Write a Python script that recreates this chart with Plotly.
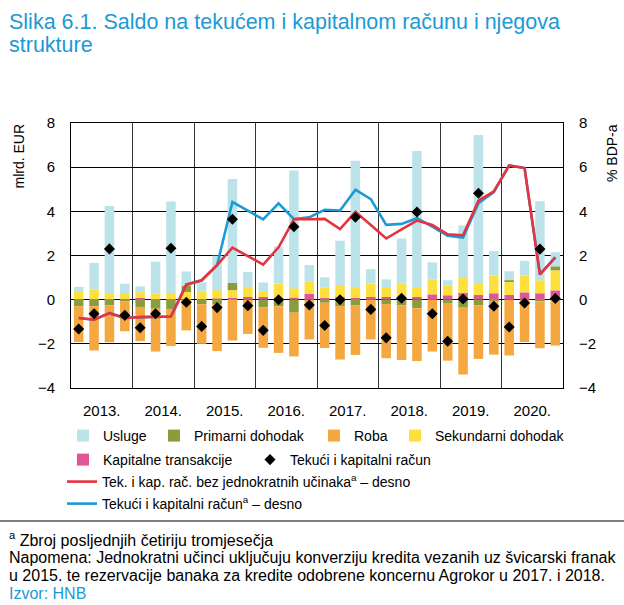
import plotly.graph_objects as go

years = ["2013.", "2014.", "2015.", "2016.", "2017.", "2018.", "2019.", "2020."]
n_q = 32
quarters = [f"{2013 + i // 4}Q{i % 4 + 1}" for i in range(n_q)]

# mlrd. EUR
usluge = [0.23, 1.21, 3.94, 0.42, 0.26, 1.45, 4.15, 0.64,
          0.41, 1.56, 4.70, 0.67, 0.42, 1.68, 5.33, 0.74,
          0.45, 2.05, 5.76, 0.65, 0.35, 2.05, 6.20, 0.77,
          0.23, 2.38, 6.70, 1.11, 0.41, 0.67, 3.58, 0.64]
primarni = [-0.30, -0.30, -0.26, -0.08, -0.33, -0.41, -0.45, 0.29,
            -0.21, -0.21, 0.33, 0.00, -0.35, -0.30, -0.59, 0.00,
            -0.14, -0.29, -0.26, 0.00, -0.20, -0.26, -0.39, 0.00,
            -0.15, -0.36, -0.26, -0.05, 0.06, 0.00, -0.08, 0.18]
roba = [-1.62, -2.00, -1.67, -1.35, -1.55, -1.94, -1.65, -1.39,
        -1.79, -2.12, -1.85, -1.55, -1.83, -2.11, -1.98, -1.80,
        -2.05, -2.42, -2.24, -1.80, -2.45, -2.47, -2.39, -2.35,
        -2.61, -3.03, -2.42, -2.44, -2.53, -1.92, -2.12, -2.08]
sekundarni = [0.35, 0.45, 0.30, 0.30, 0.26, 0.27, 0.30, 0.35,
              0.38, 0.38, 0.35, 0.47, 0.24, 0.64, 0.42, 0.56,
              0.48, 0.50, 0.45, 0.61, 0.45, 0.62, 0.41, 0.68,
              0.45, 0.68, 0.55, 0.80, 0.61, 0.76, 0.59, 0.91]
kapitalne = [0.00, 0.00, 0.00, 0.00, 0.08, 0.00, 0.00, 0.00,
             0.00, 0.05, 0.08, 0.12, 0.12, 0.09, 0.10, 0.27,
             0.08, 0.12, 0.08, 0.12, 0.12, 0.10, 0.12, 0.24,
             0.20, 0.30, 0.21, 0.29, 0.21, 0.33, 0.29, 0.42]
tekuci = [-1.33, -0.64, 2.30, -0.71, -1.27, -0.64, 2.33, -0.12,
          -1.21, -0.36, 3.64, -0.27, -1.39, 0.00, 3.30, -0.24,
          -1.17, 0.00, 3.73, -0.44, -1.73, 0.06, 3.97, -0.64,
          -1.88, 0.03, 4.82, -0.30, -1.24, -0.15, 2.29, 0.05]

# % BDP-a
bez_jednokratnih = [-0.83, -0.91, -0.61, -0.83, -0.79, -0.79, -0.76, 0.68,
                    0.88, 1.56, 2.36, 1.97, 1.59, 2.37, 3.64, 3.64,
                    3.66, 3.20, 3.98, 3.38, 2.77, 3.18, 3.58, 3.38,
                    2.96, 2.92, 4.48, 4.90, 6.08, 5.96, 1.14, 1.91]
tekuci_bdp = [-0.83, -0.91, -0.61, -0.83, -0.79, -0.79, -0.76, 0.68,
              0.88, 1.56, 4.42, 4.03, 3.64, 4.36, 3.65, 3.73,
              4.07, 4.04, 4.98, 4.55, 3.39, 3.43, 3.69, 3.31,
              2.89, 2.81, 4.37, 4.87, 6.08, 5.96, 1.14, 1.91]

x = [i + 0.5 for i in range(n_q)]
year_centers = [4 * k + 2 for k in range(len(years))]
year_bounds = [4 * k for k in range(1, len(years))]

C_USL = "#bde3ea"
C_PRIM = "#8a9c3e"
C_ROBA = "#f5a740"
C_SEK = "#fde03e"
C_KAP = "#df5598"
C_RED = "#e5333f"
C_BLUE = "#1b9ad6"
TITLE_BLUE = "#1b9ad6"

REG = "Liberation Sans, Arial, Helvetica, sans-serif"

fig = go.Figure()

def bar(name, vals, color, legend):
    fig.add_trace(go.Bar(x=x, y=vals, name=name, marker=dict(color=color, line=dict(width=0)),
                         width=0.62, legend=legend, customdata=quarters))

bar("Kapitalne transakcije", kapitalne, C_KAP, "legend5")
bar("Sekundarni dohodak", sekundarni, C_SEK, "legend4")
bar("Primarni dohodak", primarni, C_PRIM, "legend2")
bar("Roba", roba, C_ROBA, "legend3")
bar("Usluge", usluge, C_USL, "legend")

fig.add_trace(go.Scatter(x=x, y=tekuci_bdp, name="Tekući i kapitalni račun<sup>a</sup> – desno",
                         mode="lines", line=dict(color=C_BLUE, width=2.6), yaxis="y2", legend="legend8"))
fig.add_trace(go.Scatter(x=x, y=bez_jednokratnih,
                         name="Tek. i kap. rač. bez jednokratnih učinaka<sup>a</sup> – desno",
                         mode="lines", line=dict(color=C_RED, width=2.6), yaxis="y2", legend="legend7"))
fig.add_trace(go.Scatter(x=x, y=tekuci, name="Tekući i kapitalni račun", mode="markers",
                         marker=dict(symbol="diamond", size=8.5, color="black"),
                         yaxis="y2", legend="legend6"))

L, R, T, B = 71, 61, 123, 217
W, H = 624, 605
ph = H - T - B
pw = W - L - R

def px2x(px):
    return (px - L) / pw

def py2y(py):
    return (H - B - py) / ph

legend_font = dict(family=REG, size=14, color="black")

def leg(px0, py_center, **kw):
    d = dict(x=px2x(px0), y=py2y(py_center), xanchor="left", yanchor="middle",
             orientation="h", font=legend_font, bgcolor="rgba(0,0,0,0)",
             itemclick=False, itemdoubleclick=False, tracegroupgap=0)
    d.update(kw)
    return d

R1, R2, R3, R4 = 436, 460, 482, 504
layout_legends = {
    "legend": leg(63, R1),
    "legend2": leg(154, R1),
    "legend3": leg(314, R1),
    "legend4": leg(395, R1),
    "legend5": leg(63, R2),
    "legend6": leg(250, R2),
    "legend7": leg(62, R3),
    "legend8": leg(62, R4),
}

axis_font = dict(family=REG, size=15, color="black")
yticks = [-4, -2, 0, 2, 4, 6, 8]
ytext = ["−4", "−2", "0", "2", "4", "6", "8"]

fig.update_layout(
    width=W, height=H,
    margin=dict(l=L, r=R, t=T, b=B),
    paper_bgcolor="white", plot_bgcolor="white",
    barmode="relative",
    showlegend=True,
    xaxis=dict(range=[0, n_q], tickvals=year_centers, ticktext=years, showgrid=False,
               ticks="", tickfont=axis_font, ticklabelstandoff=9,
               showline=True, linecolor="black", linewidth=1, mirror=True, zeroline=False,
               minor=dict(tickvals=year_bounds, showgrid=True, gridcolor="#333", gridwidth=1, ticks="")),
    yaxis=dict(range=[-4, 8], tickvals=yticks, ticktext=ytext, showgrid=True, gridcolor="black",
               gridwidth=1, zeroline=True, zerolinecolor="black", zerolinewidth=1, ticks="",
               tickfont=axis_font, ticklabelstandoff=12,
               showline=True, linecolor="black", linewidth=1, mirror=True),
    yaxis2=dict(range=[-4, 8], tickvals=yticks, ticktext=ytext, overlaying="y", side="right",
                showgrid=False, zeroline=False, ticks="", tickfont=axis_font, ticklabelstandoff=15,
                showline=False),
    **layout_legends,
)

title_font = dict(family=REG, size=21.5, color=TITLE_BLUE)
for txt, py in [("Slika 6.1. Saldo na tekućem i kapitalnom računu i njegova", 22),
                ("strukture", 45)]:
    fig.add_annotation(text=txt, xref="paper", yref="paper", x=px2x(7), y=py2y(py),
                       xanchor="left", yanchor="middle", showarrow=False, font=title_font)

fig.add_annotation(text="mlrd. EUR", textangle=-90, xref="paper", yref="paper",
                   x=px2x(18), y=py2y(122), xanchor="center", yanchor="top", showarrow=False,
                   font=dict(family=REG, size=14, color="black"))
fig.add_annotation(text="% BDP-a", textangle=-90, xref="paper", yref="paper",
                   x=px2x(612), y=py2y(122), xanchor="center", yanchor="top", showarrow=False,
                   font=dict(family=REG, size=14, color="black"))

fig.add_shape(type="line", xref="paper", yref="paper", x0=px2x(0), x1=px2x(W),
              y0=py2y(521), y1=py2y(521), line=dict(color="black", width=1))

foot_lines = [
    ("<sup>a</sup> Zbroj posljednjih četiriju tromjesečja", 539, "black"),
    ("Napomena: Jednokratni učinci uključuju konverziju kredita vezanih uz švicarski franak", 557, "black"),
    ("u 2015. te rezervacije banaka za kredite odobrene koncernu Agrokor u 2017. i 2018.", 575, "black"),
    ("Izvor: HNB", 593, TITLE_BLUE),
]
for txt, py, col in foot_lines:
    fig.add_annotation(text=txt, xref="paper", yref="paper", x=px2x(7), y=py2y(py),
                       xanchor="left", yanchor="middle", align="left", showarrow=False,
                       font=dict(family=REG, size=16, color=col))

fig.write_html("out.html", config={"displayModeBar": False},
               post_script="document.body.style.margin='0px';")
